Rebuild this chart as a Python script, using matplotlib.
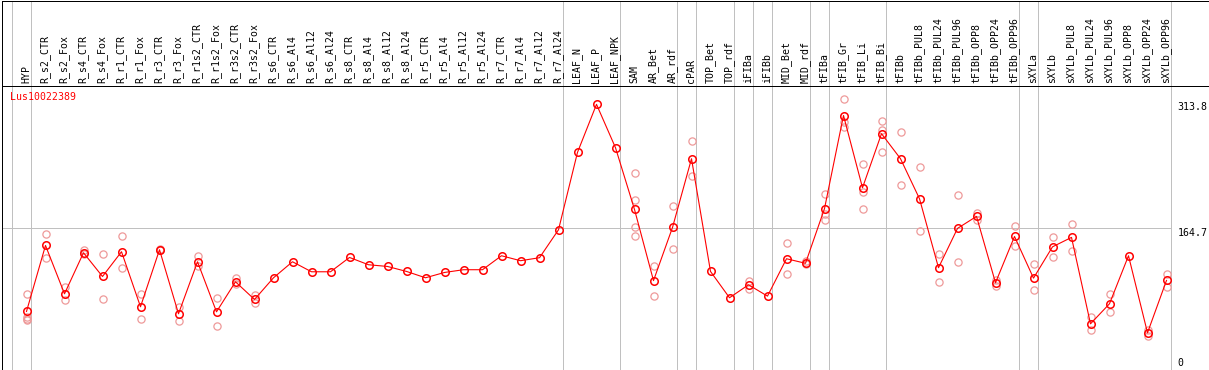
import matplotlib
matplotlib.use("Agg")
import matplotlib.pyplot as plt

# ---------------- data ----------------
categories = ["HYP", "R_s2_CTR", "R_s2_Fox", "R_s4_CTR", "R_s4_Fox", "R_r1_CTR", "R_r1_Fox",
              "R_r3_CTR", "R_r3_Fox", "R_r1s2_CTR", "R_r1s2_Fox", "R_r3s2_CTR", "R_r3s2_Fox",
              "R_s6_CTR", "R_s6_Al4", "R_s6_Al12", "R_s6_Al24", "R_s8_CTR", "R_s8_Al4",
              "R_s8_Al12", "R_s8_Al24", "R_r5_CTR", "R_r5_Al4", "R_r5_Al12", "R_r5_Al24",
              "R_r7_CTR", "R_r7_Al4", "R_r7_Al12", "R_r7_Al24", "LEAF_N", "LEAF_P", "LEAF_NPK",
              "SAM", "AR_Bet", "AR_rdf", "cPAR", "TOP_Bet", "TOP_rdf", "iFIBa", "iFIBb",
              "MID_Bet", "MID_rdf", "tFIBa", "tFIB_Gr", "tFIB_Li", "tFIB_Bi", "tFIBb",
              "tFIBb_PUL8", "tFIBb_PUL24", "tFIBb_PUL96", "tFIBb_OPP8", "tFIBb_OPP24",
              "tFIBb_OPP96", "sXYLa", "sXYLb", "sXYLb_PUL8", "sXYLb_PUL24", "sXYLb_PUL96",
              "sXYLb_OPP8", "sXYLb_OPP24", "sXYLb_OPP96"]

mean_values = [67.7, 144.7, 88.3, 136.2, 108.5, 137.4, 73.2, 139.7, 65.0, 125.7, 67.3,
               102.3, 81.7, 107.0, 125.7, 114.0, 114.0, 130.7, 122.2, 120.2, 114.4,
               107.0, 113.2, 116.4, 116.4, 132.7, 126.9, 130.4, 163.0, 253.3, 309.3,
               258.7, 186.7, 103.7, 165.7, 245.9, 114.4, 83.7, 98.8, 85.6, 129.2, 123.9,
               187.7, 296.3, 212.0, 275.1, 245.9, 199.2, 118.7, 164.6, 178.6, 101.2,
               155.2, 106.6, 143.1, 154.1, 53.3, 76.7, 132.7, 42.8, 103.9]

replicates = [[87.5, 61.0, 59.2, 57.2], [158.4, 130.4], [96.0, 81.3], [138.9, 135.0],
              [135.0, 81.7], [156.0, 118.7], [88.3, 58.4], [140.5, 138.9], [72.7, 56.4],
              [131.9, 120.2], [83.7, 51.0], [106.6, 99.2], [86.7, 77.4],
              [], [], [], [], [], [], [], [], [], [], [], [], [], [], [], [],
              [], [], [],
              [229.6, 197.2, 165.7, 155.2], [120.2, 86.0], [190.2, 140.9], [266.9, 225.6],
              [], [], [102.7, 94.2], [], [147.9, 110.9], [126.0, 122.5],
              [204.2, 181.7, 174.7], [315.9, 288.6, 282.8], [240.1, 206.9, 186.7],
              [290.2, 279.7, 254.0], [277.4, 215.6], [236.6, 161.9], [135.0, 102.3],
              [203.9, 125.7], [182.4, 173.9], [104.7, 97.2], [166.9, 144.4],
              [122.5, 93.0], [154.1, 131.5], [170.0, 138.5], [61.0, 46.3], [87.5, 67.3],
              [], [45.5, 38.5], [110.9, 96.0]]

group_starts = [0, 1, 29, 32, 35, 36, 38, 39, 40, 42, 43, 46, 53, 54, 61]
y_ticks = [313.8, 164.7, 0]
y_tick_labels = ["313.8", "164.7", "0"]
gene_name = "Lus10022389"

# ---------------- layout ----------------
W, H = 1209, 370
fig = plt.figure(figsize=(W / 100, H / 100), dpi=100)
mono = "DejaVu Sans Mono"
fs = 7.1
grey = "#C0C0C0"

left = 1.5 / W
right = 1208.5 / W
bottom = 0.5 / H
header = 284.5 / H
ax = fig.add_axes([left, bottom, right - left, header - bottom])
axh = fig.add_axes([left, header, right - left, 369.5 / H - header], sharex=ax)

x0 = (1.5 - 26.5) / 19
x1 = (1208.5 - 26.5) / 19
ax.set_xlim(x0, x1)
ax.set_ylim(0, 284.0 / (269.0 / 313.8))
axh.set_ylim(0, 84)

for a in (ax, axh):
    a.set_xticks([])
    a.set_yticks([])
    for s in a.spines.values():
        s.set_color("black")
        s.set_linewidth(0.72)
    a.patch.set_alpha(0)

sep_offset = 15 / 19
for g in group_starts:
    for a in (ax, axh):
        a.axvline(g - sep_offset, color=grey, lw=0.72, zorder=1)

ax.hlines(164.7, x0, 61 - sep_offset, color=grey, lw=0.72, zorder=1)

xs = list(range(len(categories)))

# replicates
rx, ry = [], []
for i, reps in enumerate(replicates):
    for v in reps:
        rx.append(i)
        ry.append(v)
ax.plot(rx, ry, linestyle="none", marker="o", ms=5.2, mfc="none",
        mec="#EE9A9A", mew=0.9, zorder=2)

# mean line
ax.plot(xs, mean_values, color="red", lw=0.8, marker="o", ms=5.4, mfc="none",
        mec="red", mew=1.1, zorder=3)

# header labels
for i, c in enumerate(categories):
    axh.text(i - 0.03, 2, c, rotation=90, ha="center", va="bottom",
             fontsize=fs, family=mono, color="black")

# y labels (vertical pixel offsets from their value position)
xl = (1177.5 - 26.5) / 19
label_offsets_px = [-7.0, -4.7, 7.0]
for t, lab, off in zip(y_ticks, y_tick_labels, label_offsets_px):
    ax.annotate(lab, xy=(xl, t), xytext=(0, off * 0.72),
                textcoords="offset points", ha="left", va="center",
                fontsize=fs, family=mono, annotation_clip=False)

fig.text(10 / W, 1 - 97 / H, gene_name, color="red", fontsize=fs, family=mono,
         ha="left", va="center")

fig.savefig("out.png", dpi=100)
